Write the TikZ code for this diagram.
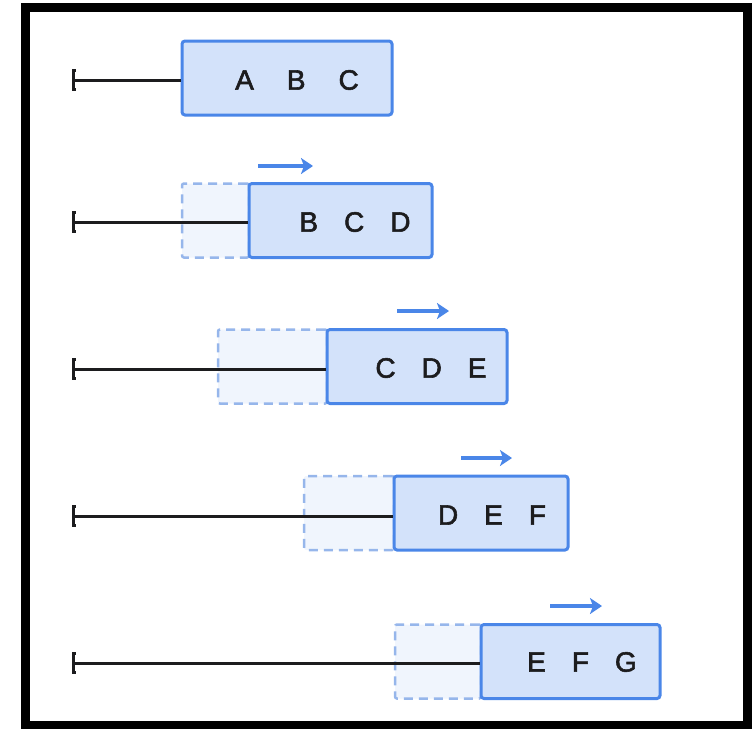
\documentclass[tikz,border=0pt]{standalone}
\usepackage{fontspec}
\setmainfont{Liberation Sans}
\newfontfamily\letterfont{Liberation Sans}[FakeBold=2]
\usetikzlibrary{arrows.meta}
\definecolor{winline}{RGB}{74,134,232}
\definecolor{winfill}{RGB}{211,226,250}
\definecolor{oldline}{RGB}{150,182,235}
\definecolor{oldfill}{RGB}{240,245,253}
\definecolor{track}{RGB}{28,28,30}

\begin{document}
\begin{tikzpicture}
[x=1pt,y=-1pt,%
  win/.style={draw=winline,fill=winfill,line width=3pt,rounded corners=3pt,minimum height=74pt,inner sep=0pt},%
  old/.style={draw=oldline,fill=oldfill,line width=2.5pt,dash pattern=on 9pt off 6pt,rounded corners=2pt,minimum height=74pt,inner sep=0pt},%
  letters/.style={font=\letterfont\fontsize{28}{30}\selectfont,text=track,inner sep=0pt},%
  tick/.style={{Bar[width=22pt,length=3.5pt]}-,draw=track,line width=3pt},%
  slide/.style={-{Stealth[length=12pt,width=16pt,inset=3pt]},draw=winline,line width=4pt}]
\useasboundingbox (0,0) rectangle (752,728);
\draw[line width=9pt] (25,7) rectangle (747,725);
%%
\coordinate (s1) at (72,80);
\node[win,minimum width=210pt] (w1) at (287,78) {};
\node[letters] (t1) at (297,80) {A\hspace{33pt}B\hspace{33pt}C};
%%
\coordinate (s2) at (72,222);
\node[old,minimum width=67pt] (o2) at (215.5,220.5) {};
\node[win,minimum width=183pt] (w2) at (340.5,220.5) {};
\node[letters] (t2) at (355,222) {B\hspace{26pt}C\hspace{26pt}D};
\coordinate (a2) at (258,166);
\coordinate (b2) at (313,166);
%%
\coordinate (s3) at (72,369);
\node[old,minimum width=109pt] (o3) at (272.5,366.5) {};
\node[win,minimum width=180pt] (w3) at (417,366.5) {};
\node[letters] (t3) at (431,368) {C\hspace{26pt}D\hspace{26pt}E};
\coordinate (a3) at (397,311);
\coordinate (b3) at (449,311);
%%
\coordinate (s4) at (72,516);
\node[old,minimum width=90pt] (o4) at (349,513) {};
\node[win,minimum width=174pt] (w4) at (481,513) {};
\node[letters] (t4) at (492,515) {D\hspace{26pt}E\hspace{26pt}F};
\coordinate (a4) at (461,458);
\coordinate (b4) at (512,458);
%%
\coordinate (s5) at (72,663);
\node[old,minimum width=86pt] (o5) at (438,661.5) {};
\node[win,minimum width=179pt] (w5) at (570.5,661.5) {};
\node[letters] (t5) at (582,662) {E\hspace{26pt}F\hspace{26pt}G};
\coordinate (a5) at (550,606);
\coordinate (b5) at (602,606);
\path
\foreach \row in {1,...,5}
{
  (s\row) edge[tick] (s\row -| w\row.west)
};
\path
\foreach \row in {2,...,5}
{
  (a\row) edge[slide] (b\row)
};
\end{tikzpicture}
\end{document}
